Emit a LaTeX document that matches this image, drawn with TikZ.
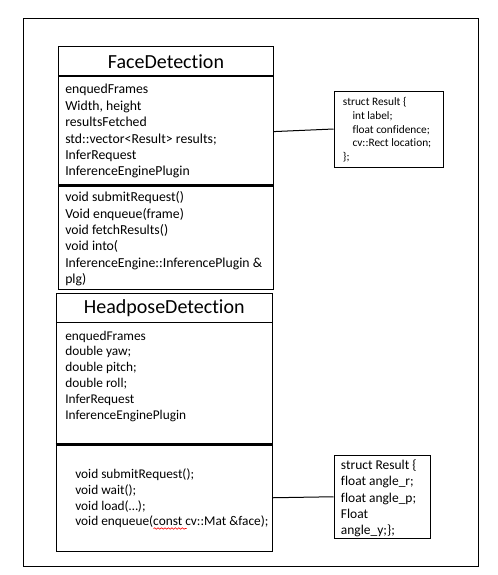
\documentclass[tikz,border=0pt]{standalone}
\usepackage{fontspec}
\setmainfont[Ligatures={NoCommon,NoRare,NoDiscretionary,NoContextual}]{Carlito}
\usetikzlibrary{fit,decorations.pathmorphing}
\begin{document}
\begin{tikzpicture}[x=0.75pt,y=-0.75pt,
  box/.style={draw, line width=0.75pt, inner sep=0pt},
  title/.style={inner sep=0pt, font=\fontsize{15}{18}\selectfont},
  txt/.style={inner sep=0pt, align=left, anchor=north west, font=\fontsize{10.3}{12.3}\selectfont},
  txtb/.style={inner sep=0pt, align=left, anchor=north west, font=\fontsize{10}{11.85}\selectfont},
  small/.style={inner sep=0pt, align=left, anchor=north west, font=\fontsize{8.5}{10.35}\selectfont},
  thick sep/.style={line width=1.6pt},
  conn/.style={line width=0.75pt}]
\useasboundingbox (0,0) rectangle (498,575);
% outer frame
\node[box, fit={(23,18) (478,566)}] (frame) {};
% FaceDetection
\node[box, fit={(58.5,46.7) (273.5,75.7)}] (fdtitle) {};
\node[title] (fdtitletext) at ([yshift=-0.3pt]fdtitle.center) {FaceDetection};
\node[box, fit={(58.5,75.7) (273.5,184)}] (fdattr) {};
\node[box, fit={(58.5,186.7) (273.5,289.5)}] (fdmeth) {};
\draw[thick sep] (fdtitle.south west) -- (fdtitle.south east);
\draw[line width=1.1pt] (fdattr.south west) -- (fdattr.south east);
\draw[line width=1.1pt] (fdmeth.north west) -- (fdmeth.north east);
\node[txt] (fdattrtext) at (65,84) {enquedFrames\\Width, height\\resultsFetched\\std::vector<Result> results;\\InferRequest\\InferenceEnginePlugin};
\node[txt] (fdmethtext) at (65,191.4) {void submitRequest()\\Void enqueue(frame)\\void fetchResults()\\void into(\\InferenceEngine::InferencePlugin \&\\plg)};
% HeadposeDetection
\node[box, fit={(56,293.3) (272.5,322)}] (hptitle) {};
\node[title] (hptitletext) at ([yshift=-0.3pt]hptitle.center) {HeadposeDetection};
\node[box, fit={(56,322) (272.5,444)}] (hpattr) {};
\node[box, fit={(56,444) (272.5,551.5)}] (hpmeth) {};
\draw[line width=2.2pt] (hpattr.south west) -- (hpattr.south east);
\node[txtb] (hpattrtext) at (65,330.5) {enquedFrames\\double yaw;\\double pitch;\\double roll;\\InferRequest\\InferenceEnginePlugin};
\node[txtb] (hpmethtext) at (75,468.5) {void submitRequest();\\void wait();\\void load(\dots);\\void enqueue(const cv::Mat \&face);};
\draw[red, line width=0.45pt, decorate, decoration={snake, amplitude=0.55pt, segment length=2.6pt}] (153.5,528.5) -- (186.5,528.5);
% struct boxes
\node[box, fit={(334,91) (443,167)}] (s1) {};
\node[small] (s1text) at (342.7,97) {struct Result \{\\\hspace*{7.2pt}int label;\\\hspace*{7.2pt}float confidence;\\\hspace*{7.2pt}cv::Rect location;\\\};};
\node[box, fit={(334,455) (430,538.5)}] (s2) {};
\node[inner sep=0pt, align=left, anchor=north west, font=\fontsize{10.1}{12.15}\selectfont] (s2text) at (340.7,459.6) {struct Result \{\\float angle\_r;\\float angle\_p;\\Float\\angle\_y;\};};
% connectors
\draw[conn] ([yshift=-1.3pt]fdattr.east) -- (s1.west);
\draw[conn] (hpmeth.east) -- (s2.west);
\end{tikzpicture}
\end{document}
